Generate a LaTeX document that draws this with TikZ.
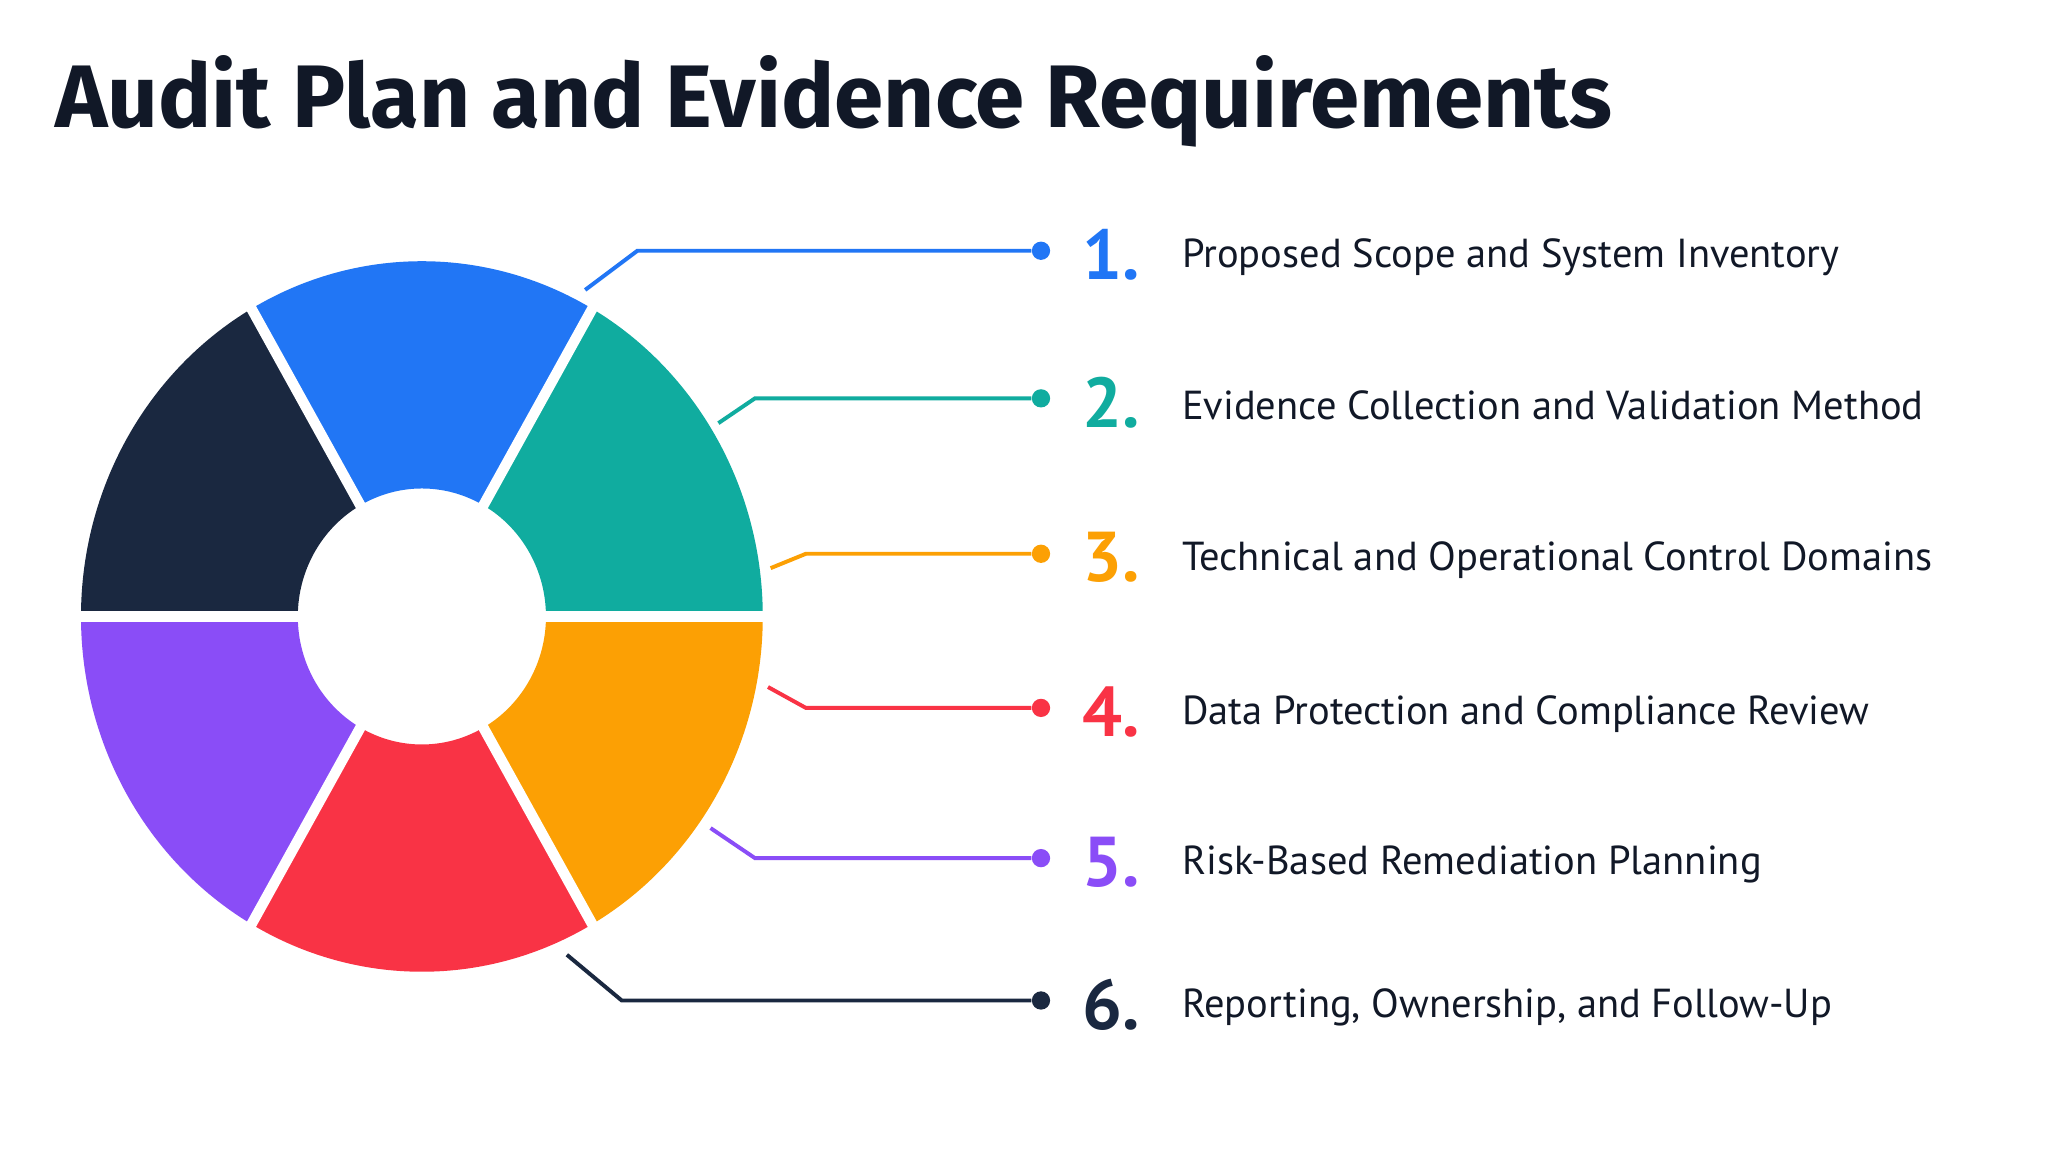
\documentclass[tikz,border=0pt]{standalone}
\usepackage{fontspec}
\usetikzlibrary{calc}
\setmainfont{PT Sans}
\newfontfamily\titlefont{Fira Sans}
\definecolor{cblue}{HTML}{2176F5}
\definecolor{cteal}{HTML}{10AC9F}
\definecolor{corange}{HTML}{FCA004}
\definecolor{cred}{HTML}{F93345}
\definecolor{cpurple}{HTML}{8A4DF7}
\definecolor{cnavy}{HTML}{1A2840}
\definecolor{ctitle}{HTML}{111827}
\begin{document}
\begin{tikzpicture}[x=0.5pt,y=0.5pt,
  conn/.style={line width=1.5pt},
  dot/.style={circle,inner sep=0pt,minimum size=7pt},
  num/.style={anchor=west,font=\fontsize{27}{30}\selectfont\bfseries},
  lbl/.style={anchor=west,font=\fontsize{15.5}{18}\selectfont,text=ctitle}]
\useasboundingbox (0,0) rectangle (1568,882);
\fill[white] (0,0) rectangle (1568,882);
\node[anchor=base west,inner sep=0pt,text=ctitle,font=\titlefont\fontsize{34}{40}\selectfont\bfseries] (title) at (42,784) {Audit Plan and Evidence Requirements};
\coordinate (c) at (323,410);
\def\myseg#1#2#3{\fill[#3] ($(c)+(#1:261 and 272)$) arc[start angle=#1,end angle=#2,x radius=261,y radius=272] -- ($(c)+(#2:95 and 98)$) arc[start angle=#2,end angle=#1,x radius=95,y radius=98] -- cycle;}
\myseg{0}{60}{cteal}
\myseg{60}{120}{cblue}
\myseg{120}{180}{cnavy}
\myseg{180}{240}{cpurple}
\myseg{240}{300}{cred}
\myseg{300}{360}{corange}
\foreach \a in {0,60,...,300} \draw[white,line width=4pt] (c) -- ($(c)+(\a:280 and 292)$);
\def\mycallout#1#2#3#4#5#6{%
 \coordinate (s#1) at (#3); \coordinate (k#1) at (#4);
 \node[dot,fill=#2] (d#1) at (797,#5) {};
 \draw[conn,#2] (s#1) -- (k#1) -- (d#1);
 \node[num,text=#2] (n#1) at (822,#5-3) {#1.};
 \node[lbl] (t#1) at (898,#5-5) {#6};}
\mycallout{1}{cblue}{448,660}{488,690}{690}{Proposed Scope and System Inventory}
\mycallout{2}{cteal}{550,558}{578,577}{577}{Evidence Collection and Validation Method}
\mycallout{3}{corange}{590,447}{617,458}{458}{Technical and Operational Control Domains}
\mycallout{4}{cred}{588,356}{617,340}{340}{Data Protection and Compliance Review}
\mycallout{5}{cpurple}{544,248}{578,225}{225}{Risk-Based Remediation Planning}
\mycallout{6}{cnavy}{434,151}{476,116}{116}{Reporting, Ownership, and Follow-Up}
\end{tikzpicture}
\end{document}
